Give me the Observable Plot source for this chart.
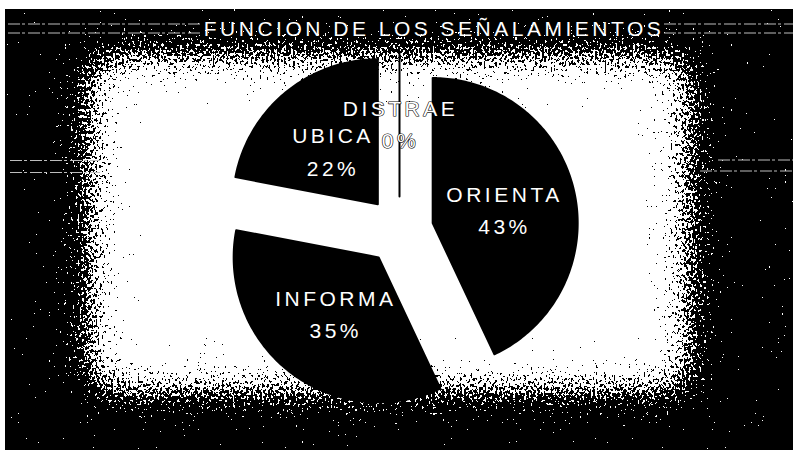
<!DOCTYPE html>
<html>
<head>
<meta charset="utf-8">
<script src="https://cdn.jsdelivr.net/npm/d3@7"></script>
<script src="https://cdn.jsdelivr.net/npm/@observablehq/plot@0.6"></script>
<style>
  html, body { margin: 0; padding: 0; background: #fff; }
  #wrap { position: relative; width: 793px; height: 450px; overflow: hidden; background: #fff; }
  #bg { position: absolute; left: 0; top: 0; }
  #chart { position: absolute; left: 0; top: 0; }
  #chart svg text { letter-spacing: 3.5px; }
  #chart svg text.ttl { letter-spacing: 3px; }
</style>
</head>
<body>
<div id="wrap">
  <svg id="bg" width="793" height="450" xmlns="http://www.w3.org/2000/svg">
    <defs>
      <filter id="speck" filterUnits="userSpaceOnUse" x="0" y="0" width="793" height="450" color-interpolation-filters="sRGB">
        <feGaussianBlur in="SourceGraphic" stdDeviation="22" result="g"/>
        <feTurbulence type="fractalNoise" baseFrequency="0.45 0.32" numOctaves="2" seed="11" result="t"/>
        <feColorMatrix in="t" type="matrix" values="1.6 0 0 0 -0.3  1.6 0 0 0 -0.3  1.6 0 0 0 -0.3  0 0 0 0 1" result="n"/>
        <feComposite in="g" in2="n" operator="arithmetic" k1="0" k2="1" k3="1" k4="-0.5" result="s"/>
        <feComponentTransfer in="s">
          <feFuncR type="discrete" tableValues="0 1"/>
          <feFuncG type="discrete" tableValues="0 1"/>
          <feFuncB type="discrete" tableValues="0 1"/>
          <feFuncA type="linear" slope="0" intercept="1"/>
        </feComponentTransfer>
      </filter>
    </defs>
    <g filter="url(#speck)">
      <rect x="-80" y="-80" width="960" height="620" fill="#000"/>
      <rect x="90" y="56" width="598" height="334" fill="#fff"/>
    </g>
    <rect x="0" y="0" width="793" height="9" fill="#fff"/>
    <rect x="0" y="0" width="5" height="450" fill="#fff"/>
    <g stroke="#bdbdbd" stroke-width="1" stroke-dasharray="12 2 3 3" fill="none">
      <line x1="8" y1="24" x2="200" y2="24"/>
      <line x1="8" y1="33" x2="200" y2="33"/>
      <line x1="664" y1="24" x2="793" y2="24"/>
      <line x1="664" y1="33" x2="793" y2="33"/>
      <line x1="10" y1="160.5" x2="100" y2="160.5"/>
      <line x1="10" y1="172.5" x2="100" y2="172.5"/>
      <line x1="718" y1="160" x2="793" y2="160"/>
      <line x1="700" y1="171" x2="793" y2="171"/>
    </g>
  </svg>
  <div id="chart"></div>
</div>
<script>
// ---- data ----
const title = "FUNCION DE LOS SEÑALAMIENTOS";
const categories = ["ORIENTA", "INFORMA", "UBICA", "DISTRAE"];
const percents = [43, 35, 22, 0];

// ---- layout (pixels) ----
const W = 793, H = 450;
const CX = 399, CY = 230, R = 145, EXPLODE = 34;
const labelRadius = 0.55;
const labelNudge = { ORIENTA: [-6, 2], INFORMA: [6, -9], UBICA: [6, 6], DISTRAE: [1, 5] };

const e = EXPLODE / R;
const arcs = d3.pie().sort(null).value(d => d)(percents);

const slicePts = [];
const labels = [];
arcs.forEach((a, i) => {
  const cat = categories[i];
  const b = (a.startAngle + a.endAngle) / 2;
  const ox = e * Math.sin(b), oy = e * Math.cos(b);
  slicePts.push({ cat, x: ox, y: oy });
  const span = a.endAngle - a.startAngle;
  const n = Math.max(1, Math.ceil(span / (Math.PI / 180)));
  for (let k = 0; k <= n; k++) {
    const t = a.startAngle + span * k / n;
    slicePts.push({ cat, x: ox + Math.sin(t), y: oy + Math.cos(t) });
  }
  const nd = labelNudge[cat] || [0, 0];
  labels.push({
    cat,
    text: `${cat}\n${percents[i]}%`,
    x: ox + labelRadius * Math.sin(b) + nd[0] / R,
    y: oy + labelRadius * Math.cos(b) - nd[1] / R
  });
});

const chart = Plot.plot({
  width: W,
  height: H,
  margin: 0,
  style: { background: "transparent", overflow: "visible" },
  x: { domain: [-CX / R, (W - CX) / R], axis: null },
  y: { domain: [-(H - CY) / R, CY / R], axis: null },
  marks: [
    Plot.line(slicePts, {
      x: "x", y: "y", z: "cat",
      fill: "#000", stroke: "#000", strokeWidth: 2,
      curve: "linear-closed"
    }),
    Plot.text(labels, {
      x: "x", y: "y", text: "text",
      fill: "#fff", stroke: "#000", strokeWidth: 1.2, paintOrder: "stroke",
      fontSize: 21, lineHeight: 1.55,
      fontFamily: "'Liberation Sans', Arial, sans-serif",
      textAnchor: "middle", lineAnchor: "middle"
    }),
    Plot.text([title], {
      frameAnchor: "top", dx: 37, dy: 29, lineAnchor: "middle",
      fill: "#fff", fontSize: 21,
      fontFamily: "'Liberation Sans', Arial, sans-serif",
      className: "ttl"
    })
  ]
});
document.getElementById("chart").appendChild(chart);
</script>
</body>
</html>
